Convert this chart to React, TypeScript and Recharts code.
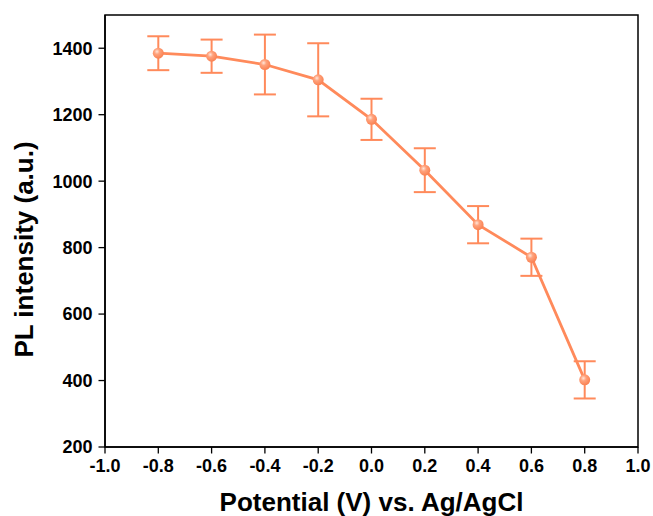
import React from 'react';
import { LineChart, Line, XAxis, YAxis, ErrorBar, ReferenceArea, Label } from 'recharts';

const potentials = [-0.8, -0.6, -0.4, -0.2, 0.0, 0.2, 0.4, 0.6, 0.8];
const intensity = [1385, 1376, 1351, 1305, 1186, 1033, 869, 771, 402];
const errors = [51, 50, 90, 110, 62, 66, 56, 56, 56];

const xMajorTicks = [-1.0, -0.8, -0.6, -0.4, -0.2, 0.0, 0.2, 0.4, 0.6, 0.8, 1.0];
const xMinorTicks = [-0.9, -0.7, -0.5, -0.3, -0.1, 0.1, 0.3, 0.5, 0.7, 0.9];
const yMajorTicks = [200, 400, 600, 800, 1000, 1200, 1400];
const yMinorTicks = [300, 500, 700, 900, 1100, 1300, 1500];

const data = potentials.map((p, i) => ({ x: p, y: intensity[i], err: errors[i] }));

const COLOR = '#FF8A5B';
const FONT = '"Liberation Sans", Arial, sans-serif';

const Dot = (props: any) => {
  const { cx, cy, index } = props;
  if (cx == null || cy == null) return null;
  const id = `g${index}`;
  return (
    <g key={id}>
      <defs>
        <radialGradient id={id} cx="0.38" cy="0.35" r="0.7">
          <stop offset="0%" stopColor="#FFE6DA" />
          <stop offset="35%" stopColor="#FFA27C" />
          <stop offset="100%" stopColor="#F97E4E" />
        </radialGradient>
      </defs>
      <circle cx={cx} cy={cy} r={5.5} fill={`url(#${id})`} stroke="none" />
    </g>
  );
};

const tickStyle = { fontFamily: FONT, fontWeight: 'bold', fontSize: 18, fill: '#000' };

export default function App() {
  return (
    <div style={{ position: 'absolute', left: 0, top: 0 }}>
      <LineChart width={653} height={516} data={data} margin={{ top: 15, right: 15, bottom: 0, left: 0 }}>
        <XAxis
          xAxisId="minor"
          dataKey="x"
          type="number"
          domain={[-1, 1]}
          ticks={xMinorTicks}
          tickFormatter={() => ''}
          tickSize={3.5}
          axisLine={false}
          tickLine={{ stroke: '#000', strokeWidth: 1.3 }}
          height={0}
          allowDataOverflow
        />
        <XAxis
          xAxisId="main"
          dataKey="x"
          type="number"
          domain={[-1, 1]}
          ticks={xMajorTicks}
          tickFormatter={(v: number) => v.toFixed(1)}
          tickSize={6.5}
          tickMargin={6}
          tick={tickStyle}
          axisLine={{ stroke: '#000', strokeWidth: 1.5 }}
          tickLine={{ stroke: '#000', strokeWidth: 1.3 }}
          height={69}
          interval={0}
          allowDataOverflow
        >
          <Label
            value="Potential (V) vs. Ag/AgCl"
            position="insideBottom"
            offset={5}
            style={{ fontFamily: FONT, fontWeight: 'bold', fontSize: 26, fill: '#000' }}
          />
        </XAxis>
        <YAxis
          yAxisId="minor"
          type="number"
          domain={[200, 1500]}
          ticks={yMinorTicks}
          tickFormatter={() => ''}
          tickSize={3.5}
          axisLine={false}
          tickLine={{ stroke: '#000', strokeWidth: 1.3 }}
          width={0}
          allowDataOverflow
        />
        <YAxis
          yAxisId="main"
          type="number"
          domain={[200, 1500]}
          ticks={yMajorTicks}
          tickSize={6.5}
          tickMargin={6}
          tick={tickStyle}
          axisLine={{ stroke: '#000', strokeWidth: 1.5 }}
          tickLine={{ stroke: '#000', strokeWidth: 1.3 }}
          width={105}
          interval={0}
          allowDataOverflow
        >
          <Label
            content={() => {
              const cx = 32.5;
              const cy = 249.5;
              return (
                <text
                  x={cx}
                  y={cy}
                  transform={`rotate(-90 ${cx} ${cy})`}
                  textAnchor="middle"
                  style={{ fontFamily: FONT, fontWeight: 'bold', fontSize: 26, fill: '#000' }}
                >
                  PL intensity (a.u.)
                </text>
              );
            }}
          />
        </YAxis>
        <ReferenceArea
          xAxisId="main"
          yAxisId="main"
          x1={-1}
          x2={1}
          y1={200}
          y2={1500}
          fill="none"
          fillOpacity={0}
          stroke="#000"
          strokeWidth={1.5}
          ifOverflow="visible"
        />
        <Line
          xAxisId="main"
          yAxisId="main"
          dataKey="y"
          stroke={COLOR}
          strokeWidth={2.8}
          dot={<Dot />}
          activeDot={false}
          isAnimationActive={false}
        >
          <ErrorBar dataKey="err" direction="y" width={11} stroke={COLOR} strokeWidth={2} isAnimationActive={false} />
        </Line>
      </LineChart>
    </div>
  );
}
